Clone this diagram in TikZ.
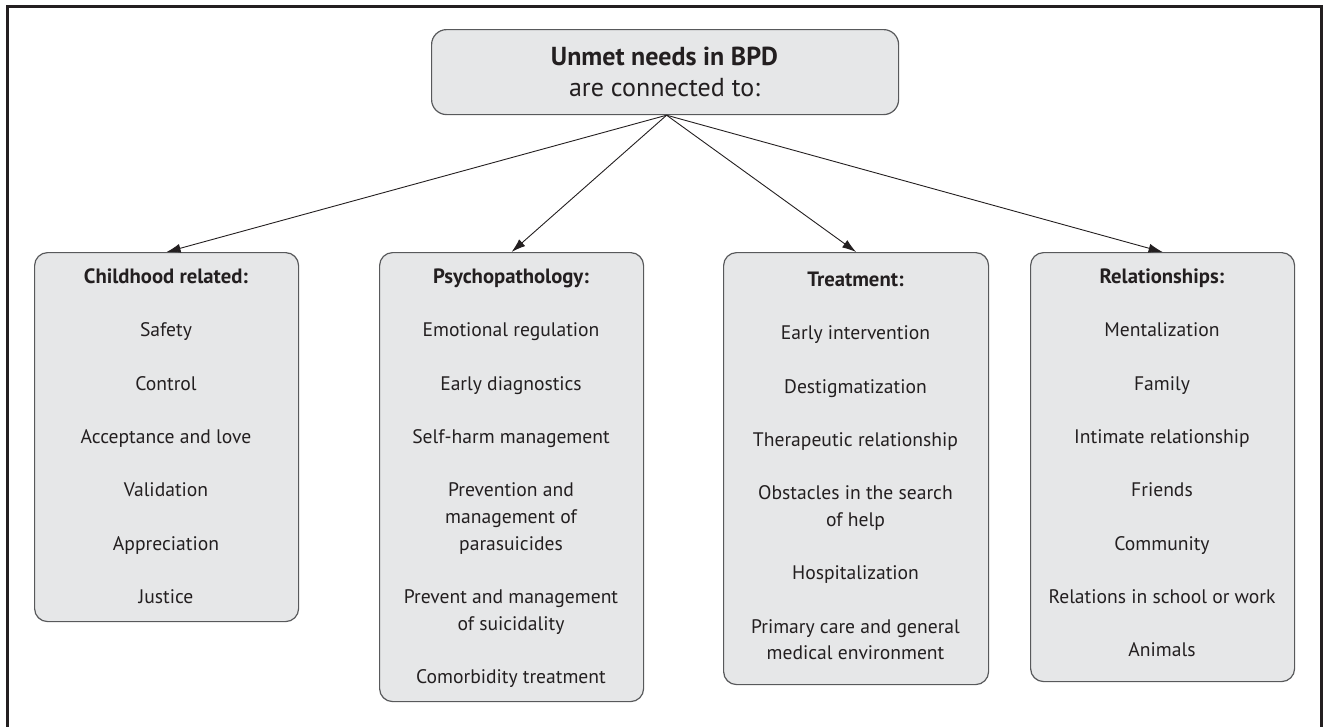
\documentclass[tikz,border=0pt]{standalone}
\usepackage{fontspec}
\setmainfont{PT Sans}
\usetikzlibrary{arrows.meta}
\definecolor{panelfill}{HTML}{E6E7E8}
\definecolor{panelline}{HTML}{58595B}
\definecolor{ink}{HTML}{231F20}
\begin{document}
\begin{tikzpicture}[x=1pt,y=-1pt,
  panel/.style={draw=panelline, line width=1.2pt, fill=panelfill, rounded corners=13pt,
                anchor=north west, inner sep=0pt},
  item/.style={anchor=base, inner sep=0pt, text=ink, font=\fontsize{19.6}{22}\selectfont},
  head/.style={item, font=\fontsize{20.7}{24}\selectfont\bfseries},
  titletext/.style={item, font=\fontsize{26}{30}\selectfont},
  link/.style={draw=ink, line width=0.9pt, -{Latex[length=14pt,width=9pt]}}]
\useasboundingbox (0,0) rectangle (1326,726);
\clip (0,0) rectangle (1326,726);

% outer frame
\draw[ink, line width=3pt] (7.5,6.5) rectangle (1321.5,745);

% title box
\node[panel, minimum width=467pt, minimum height=85pt, rounded corners=15pt] (top) at (431,29) {};
\node[titletext, font=\fontsize{26}{30}\selectfont\bfseries] (title) at (664.5,65.7) {Unmet needs in BPD};
\node[titletext] (subtitle) at (664.5,96.7) {are connected to:};

% category panels
\node[panel, minimum width=264pt, minimum height=369pt] (child) at (34,252) {};
\node[panel, minimum width=264pt, minimum height=449pt] (psych) at (379,252) {};
\node[panel, minimum width=265pt, minimum height=432pt] (treat) at (723,252) {};
\node[panel, minimum width=264pt, minimum height=429pt] (rel) at (1030,252) {};

% childhood related
\node[head] (child-h) at (166,283.5) {Childhood related:};
\foreach \k/\t in {2/Safety, 4/Control, 6/Acceptance and love, 8/Validation,
                   10/Appreciation, 12/Justice}
  \node[item] (child-\k) at (166,283.5+\k*26.667) {\t};

% psychopathology
\node[head] (psych-h) at (511,283.5) {Psychopathology:};
\foreach \k/\t in {2/Emotional regulation, 4/Early diagnostics, 6/Self-harm management,
                   8/Prevention and, 9/management of, 10/parasuicides,
                   12/Prevent and management, 13/of suicidality, 15/Comorbidity treatment}
  \node[item] (psych-\k) at (511,283.5+\k*26.667) {\t};

% treatment
\node[head] (treat-h) at (855.5,286.5) {Treatment:};
\foreach \k/\t in {2/Early intervention, 4/Destigmatization, 6/Therapeutic relationship,
                   8/Obstacles in the search, 9/of help, 11/Hospitalization,
                   13/Primary care and general, 14/medical environment}
  \node[item] (treat-\k) at (855.5,286.5+\k*26.667) {\t};

% relationships
\node[head] (rel-h) at (1162,283.5) {Relationships:};
\foreach \k/\t in {2/Mentalization, 4/Family, 6/Intimate relationship, 8/Friends,
                   10/Community, 12/Relations in school or work, 14/Animals}
  \node[item] (rel-\k) at (1162,283.5+\k*26.667) {\t};

% connectors
\coordinate (hub) at ([xshift=1.5pt]top.south);
\draw[link] (hub) -- (child.north);
\draw[link] (hub) -- (psych.north);
\draw[link] (hub) -- (treat.north);
\draw[link] (hub) -- (rel.north);
\end{tikzpicture}
\end{document}
